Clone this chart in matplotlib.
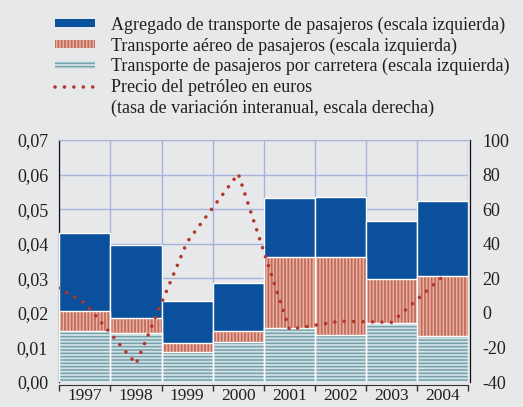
import matplotlib
matplotlib.use('Agg')
import matplotlib.pyplot as plt
from matplotlib.patches import Patch
from matplotlib.lines import Line2D
import numpy as np

plt.rcParams['font.family'] = ['Liberation Serif', 'DejaVu Serif']
plt.rcParams['hatch.linewidth'] = 1.3

# datos
years = [1997, 1998, 1999, 2000, 2001, 2002, 2003, 2004]
agregado = [0.0432, 0.0395, 0.0234, 0.0286, 0.0532, 0.0534, 0.0466, 0.0523]
aereo = [0.0204, 0.0184, 0.0113, 0.0147, 0.0362, 0.0362, 0.0297, 0.0307]
carretera = [0.0147, 0.0143, 0.0087, 0.0116, 0.0157, 0.0135, 0.0170, 0.0132]
# precio del petróleo (tasa interanual), incluye 1996 para el tramo inicial
oil_years = [1996, 1997, 1998, 1999, 2000, 2001, 2002, 2003, 2004]
oil = [22.4, 5.8, -29.5, 41.0, 80.5, -9.5, -4.8, -5.5, 21.0]

left_ticks = [0.00, 0.01, 0.02, 0.03, 0.04, 0.05, 0.06, 0.07]
left_labels = ['0,00', '0,01', '0,02', '0,03', '0,04', '0,05', '0,06', '0,07']
right_ticks = [-40, -20, 0, 20, 40, 60, 80, 100]

labels = ['Agregado de transporte de pasajeros (escala izquierda)',
          'Transporte aéreo de pasajeros (escala izquierda)',
          'Transporte de pasajeros por carretera (escala izquierda)',
          'Precio del petróleo en euros',
          '(tasa de variación interanual, escala derecha)']

bg = '#e7e8ea'
blue = '#0a509d'
red_face = '#e8b3a4'
red_hatch = '#c26b5b'
teal_face = '#74a0aa'
teal_hatch = '#d3e2e6'
grid_c = '#a6b3dc'
oil_c = '#b3362c'
txt = '#231f20'

fig = plt.figure(figsize=(5.23, 4.07), dpi=100, facecolor=bg)
ax = fig.add_axes([0.1134, 0.0614, 0.782, 0.5946])
ax.set_facecolor(bg)

x = np.array(years)
ax.bar(x, agregado, width=1.0, color=blue, edgecolor='white', linewidth=1.0, zorder=3)
ax.bar(x, aereo, width=1.0, color=red_face, edgecolor=red_hatch, hatch='|||||', linewidth=0, zorder=3)
ax.bar(x, aereo, width=1.0, fill=False, edgecolor='white', linewidth=1.0, zorder=3)
ax.bar(x, carretera, width=1.0, color=teal_face, edgecolor=teal_hatch, hatch='-----', linewidth=0, zorder=3)
ax.bar(x, carretera, width=1.0, fill=False, edgecolor='white', linewidth=1.0, zorder=3)

ax.set_xlim(1996.5, 2004.5)
ax.set_ylim(0, 0.07)
ax.set_yticks(left_ticks)
ax.set_yticklabels(left_labels)
ax.tick_params(axis='y', length=0, pad=8, labelsize=13, colors=txt)

bounds = np.arange(1996.5, 2005.0, 1.0)
ax.set_xticks(bounds)
ax.set_xticklabels([])
ax.set_xticks(x, minor=True)
ax.set_xticklabels([str(y) for y in years], minor=True)
ax.tick_params(axis='x', which='major', length=4, width=1.0, color='#333333', direction='out')
ax.tick_params(axis='x', which='minor', length=0, pad=2.5, labelsize=12.5, labelcolor=txt)

ax.set_axisbelow(True)
ax.yaxis.grid(True, color=grid_c, linewidth=1.0)
ax.xaxis.grid(True, which='major', color=grid_c, linewidth=1.0)

ax.spines['top'].set_color(grid_c)
ax.spines['left'].set_color('#111111')
ax.spines['left'].set_linewidth(0.9)
ax.spines['bottom'].set_color('#333333')
ax.spines['bottom'].set_position(('outward', 2))
ax.spines['right'].set_visible(False)

ax2 = ax.twinx()
ax2.set_ylim(-40, 100)
ax2.set_yticks(right_ticks)
ax2.set_yticklabels([str(t) for t in right_ticks])
ax2.tick_params(axis='y', length=0, pad=9, labelsize=13, colors=txt)
for s in ['top', 'left', 'bottom']:
    ax2.spines[s].set_visible(False)
ax2.spines['right'].set_color('#111111')
ax2.spines['right'].set_linewidth(0.9)
ax2.spines['right'].set_position(('outward', 1))
oil_style = (0, (0.01, 2.6))
ax2.plot(oil_years, oil, color=oil_c, linewidth=2.6,
         linestyle=oil_style, dash_capstyle='round', zorder=5)

handles = [Patch(facecolor=blue, edgecolor='none'),
           Patch(facecolor=red_face, edgecolor=red_hatch, hatch='|||||', linewidth=0),
           Patch(facecolor=teal_face, edgecolor=teal_hatch, hatch='-----', linewidth=0),
           Line2D([0], [0], color=oil_c, linewidth=2.6, linestyle=oil_style,
                  dash_capstyle='round'),
           Patch(facecolor='none', edgecolor='none')]
leg = fig.legend(handles, labels, loc='upper left', bbox_to_anchor=(0.105, 0.96),
                 frameon=False, fontsize=13, handlelength=2.2, handleheight=0.3,
                 handletextpad=0.9, labelspacing=0.2, borderpad=0, borderaxespad=0)
for t in leg.get_texts():
    t.set_color(txt)

fig.savefig('out.png', dpi=100, facecolor=bg)
